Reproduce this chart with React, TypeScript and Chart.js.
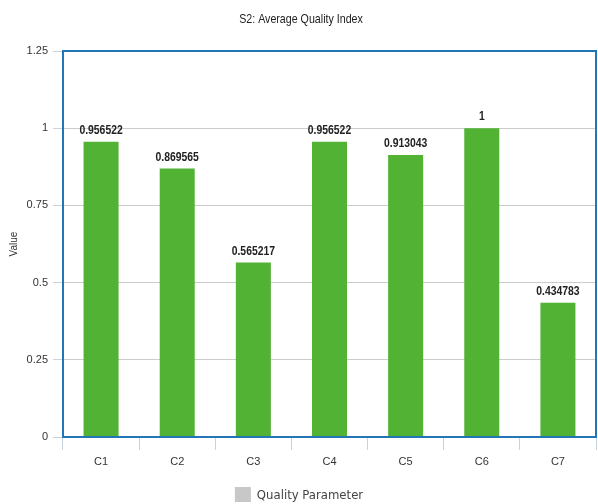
import React, { useEffect, useRef } from "react";
import { Chart, registerables } from "chart.js";

Chart.register(...registerables);

const categories = ["C1", "C2", "C3", "C4", "C5", "C6", "C7"];
const values = [0.956522, 0.869565, 0.565217, 0.956522, 0.913043, 1, 0.434783];
const valueLabels = ["0.956522", "0.869565", "0.565217", "0.956522", "0.913043", "1", "0.434783"];
const yTicks = [0, 0.25, 0.5, 0.75, 1, 1.25];
const seriesName = "Quality Parameter";
const titleText = "S2: Average Quality Index";
const yTitle = "Value";

const SANS = "'Liberation Sans', Arial, sans-serif";
const BLUE = "#2176b8";
const GREEN = "#52b234";

function narrowText(ctx: any, text: string, x: number, y: number, sx: number) {
  ctx.save();
  ctx.translate(x, y);
  ctx.scale(sx, 1);
  ctx.fillText(text, 0, 0);
  ctx.restore();
}

const overlay = {
  id: "overlay",
  afterDatasetsDraw(chart: any) {
    const { ctx, chartArea } = chart;
    ctx.save();
    // value labels
    const meta = chart.getDatasetMeta(0);
    ctx.font = `bold 13px ${SANS}`;
    ctx.fillStyle = "#222";
    ctx.textAlign = "center";
    ctx.textBaseline = "bottom";
    meta.data.forEach((bar: any, i: number) => {
      narrowText(ctx, valueLabels[i], bar.x, bar.y - 5, 0.8);
    });
    // border box
    ctx.strokeStyle = BLUE;
    ctx.lineWidth = 2;
    ctx.strokeRect(chartArea.left, chartArea.top, chartArea.right - chartArea.left, chartArea.bottom - chartArea.top);
    // title
    ctx.font = `13px ${SANS}`;
    ctx.fillStyle = "#222";
    ctx.textBaseline = "middle";
    narrowText(ctx, titleText, chart.width / 2 + 2, 19, 0.82);
    // legend
    ctx.font = `13px 'DejaVu Sans Condensed', 'DejaVu Sans', sans-serif`;
    const tw = ctx.measureText(seriesName).width;
    const boxW = 16;
    const total = boxW + 6 + tw;
    const lx = chart.width / 2 - total / 2;
    ctx.fillStyle = "#c8c8c8";
    ctx.fillRect(lx, 487, boxW, 15);
    ctx.fillStyle = "#444";
    ctx.textAlign = "left";
    ctx.fillText(seriesName, lx + boxW + 6, 496);
    ctx.restore();
  },
};

export default function App() {
  const ref = useRef<HTMLCanvasElement>(null);
  useEffect(() => {
    document.body.style.margin = "0";
    const chart = new Chart(ref.current!, {
      type: "bar",
      data: {
        labels: categories,
        datasets: [
          {
            label: seriesName,
            data: values,
            backgroundColor: GREEN,
            borderWidth: 0,
            barPercentage: 0.46,
            categoryPercentage: 1,
          },
        ],
      },
      options: {
        animation: false,
        responsive: false,
        maintainAspectRatio: false,
        layout: { padding: { top: 51, left: 0, right: 2, bottom: 0 } },
        plugins: {
          legend: { display: false },
          title: { display: false },
          tooltip: { enabled: false },
        },
        scales: {
          x: {
            grid: {
              offset: true,
              drawOnChartArea: false,
              tickLength: 13,
              tickColor: "#c9d3de",
            },
            border: { color: BLUE, width: 2 },
            ticks: {
              font: { family: SANS, size: 11 },
              color: "#333",
              padding: 5,
            },
            afterFit(scale: any) {
              scale.height = 67;
            },
          },
          y: {
            min: 0,
            max: 1.25,
            afterBuildTicks(scale: any) {
              scale.ticks = yTicks.map((v) => ({ value: v }));
            },
            grid: {
              color: "#cccccc",
              tickLength: 10,
              tickColor: "#c9d3de",
            },
            border: { color: BLUE, width: 2 },
            ticks: {
              font: { family: SANS, size: 11 },
              color: "#333",
              padding: 5,
              callback: (v: any) => String(v),
            },
            title: {
              display: true,
              text: yTitle,
              font: { family: SANS, size: 10 },
              color: "#333",
              padding: { top: 8, bottom: 0 },
            },
            afterFit(scale: any) {
              scale.width = 63;
            },
          },
        },
      },
      plugins: [overlay],
    });
    return () => chart.destroy();
  }, []);
  return (
    <div style={{ position: "absolute", left: 0, top: 0, width: 598, height: 504 }}>
      <canvas ref={ref} width={598} height={504} style={{ width: 598, height: 504 }} />
    </div>
  );
}
